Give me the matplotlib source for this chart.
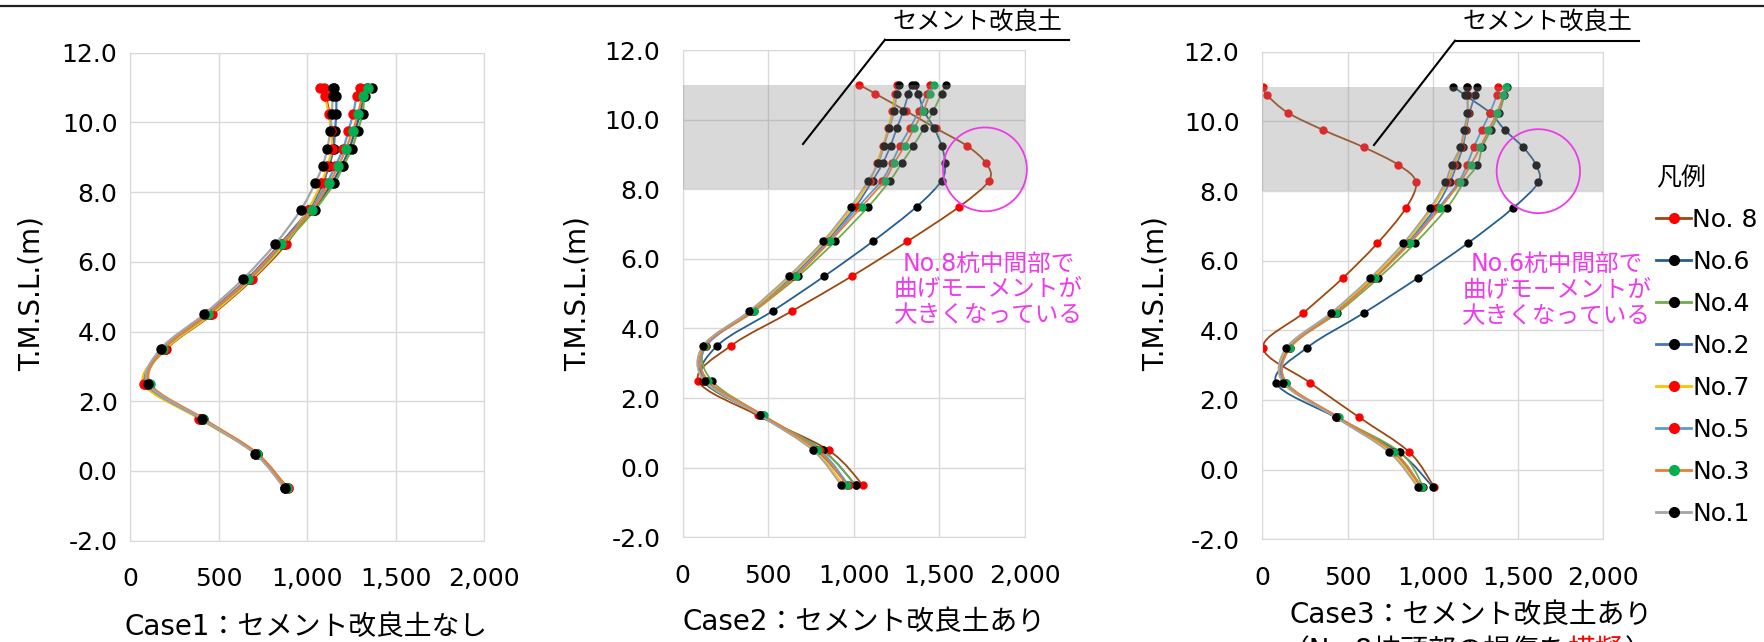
import numpy as np
import matplotlib
matplotlib.use('Agg')
import matplotlib.pyplot as plt
from matplotlib.path import Path
from matplotlib.patches import PathPatch, Ellipse
from matplotlib.lines import Line2D
from matplotlib.ticker import FuncFormatter, MultipleLocator

plt.rcParams['font.family'] = ['DejaVu Sans', 'Noto Sans CJK JP']

W, H = 1764, 642

# 深さ（T.M.S.L.）
depth = [11.0, 10.75, 10.25, 9.75, 9.25, 8.75, 8.25, 7.5, 6.5, 5.5, 4.5, 3.5, 2.5, 1.5, 0.5, -0.5]

# 凡例の順
piles = ['No. 8', 'No.6', 'No.4', 'No.2', 'No.7', 'No.5', 'No.3', 'No.1']
line_colors = ['#9e480e', '#255e91', '#70ad47', '#4472c4', '#ffc000', '#5b9bd5', '#ed7d31', '#a5a5a5']
marker_colors = ['#ff0000', '#000000', '#000000', '#000000', '#ff0000', '#ff0000', '#00b050', '#000000']

# Case1 : セメント改良土なし
c1_no8 = [1095, 1105, 1128, 1140, 1148, 1120, 1090, 1012, 880, 692, 466, 204, 85, 395, 712, 893]
c1_no6 = [1340, 1320, 1300, 1270, 1240, 1195, 1140, 1040, 860, 670, 445, 190, 100, 405, 715, 878]
c1_no4 = [1365, 1327, 1314, 1286, 1254, 1205, 1154, 1045, 870, 680, 450, 195, 110, 410, 718, 880]
c1_no2 = [1155, 1165, 1165, 1158, 1150, 1125, 1085, 1010, 845, 660, 435, 185, 100, 400, 710, 880]
c1_no7 = [1075, 1100, 1122, 1135, 1140, 1115, 1080, 1005, 870, 685, 460, 200, 78, 391, 710, 890]
c1_no5 = [1300, 1280, 1261, 1233, 1205, 1160, 1110, 1020, 860, 675, 445, 190, 95, 400, 712, 885]
c1_no3 = [1346, 1314, 1288, 1258, 1220, 1177, 1124, 1030, 852, 668, 440, 188, 115, 415, 720, 885]
c1_no1 = [1145, 1145, 1140, 1130, 1115, 1088, 1045, 966, 819, 637, 419, 173, 103, 404, 704, 873]

# Case2 : セメント改良土あり
c2_no8 = [1032, 1124, 1305, 1480, 1660, 1772, 1790, 1617, 1313, 989, 640, 282, 92, 440, 853, 1053]
c2_no6 = [1358, 1377, 1410, 1470, 1513, 1533, 1513, 1368, 1111, 828, 526, 202, 120, 460, 818, 1011]
c2_no4 = [1539, 1513, 1465, 1410, 1348, 1280, 1212, 1085, 891, 675, 420, 135, 171, 470, 818, 1011]
c2_no2 = [1338, 1319, 1290, 1251, 1215, 1170, 1110, 1010, 840, 640, 400, 125, 135, 460, 780, 963]
c2_no7 = [1254, 1240, 1225, 1200, 1170, 1135, 1095, 995, 830, 630, 400, 125, 125, 455, 770, 940]
c2_no5 = [1445, 1426, 1380, 1328, 1270, 1221, 1163, 1027, 855, 655, 411, 140, 145, 465, 800, 970]
c2_no3 = [1470, 1445, 1406, 1352, 1299, 1235, 1180, 1046, 861, 661, 415, 130, 150, 474, 790, 960]
c2_no1 = [1266, 1251, 1237, 1208, 1177, 1144, 1085, 982, 819, 619, 390, 119, 129, 453, 761, 926]

# Case3 : セメント改良土あり（No.8杭頭部の損傷を模擬）
c3_no8 = [2, 29, 149, 358, 598, 798, 901, 841, 675, 472, 241, 4, 278, 569, 863, 1008]
c3_no6 = [1120, 1189, 1335, 1423, 1531, 1605, 1619, 1468, 1205, 911, 596, 262, 80, 430, 802, 1000]
c3_no4 = [1435, 1420, 1390, 1340, 1290, 1261, 1183, 1081, 896, 681, 440, 160, 141, 445, 808, 945]
c3_no2 = [1261, 1248, 1215, 1195, 1175, 1140, 1100, 1013, 850, 655, 420, 155, 130, 440, 765, 930]
c3_no7 = [1200, 1205, 1205, 1190, 1165, 1125, 1085, 995, 840, 645, 415, 150, 120, 435, 755, 920]
c3_no5 = [1384, 1375, 1335, 1287, 1240, 1200, 1150, 1030, 855, 660, 425, 160, 135, 445, 775, 935]
c3_no3 = [1429, 1413, 1378, 1326, 1278, 1222, 1160, 1042, 866, 661, 430, 165, 141, 449, 774, 935]
c3_no1 = [1202, 1202, 1202, 1183, 1160, 1111, 1072, 984, 827, 632, 403, 141, 124, 430, 743, 911]

case1 = [c1_no8, c1_no6, c1_no4, c1_no2, c1_no7, c1_no5, c1_no3, c1_no1]
case2 = [c2_no8, c2_no6, c2_no4, c2_no2, c2_no7, c2_no5, c2_no3, c2_no1]
case3 = [c3_no8, c3_no6, c3_no4, c3_no2, c3_no7, c3_no5, c3_no3, c3_no1]

MAGENTA = '#ee3bea'


def fx(x):
    return x / W


def fy(y):
    return 1 - y / H


# Excel風のなめらかな線（ベジエ曲線）
def smooth_path(xs, ys, t=1 / 6):
    pts = np.column_stack([xs, ys]).astype(float)
    n = len(pts)
    verts = [pts[0]]
    codes = [Path.MOVETO]
    for i in range(n - 1):
        p0 = pts[i - 1] if i > 0 else pts[i]
        p1 = pts[i]
        p2 = pts[i + 1]
        p3 = pts[i + 2] if i + 2 < n else pts[i + 1]
        verts += [p1 + (p2 - p0) * t, p2 - (p3 - p1) * t, p2]
        codes += [Path.CURVE4] * 3
    return Path(verts, codes)


fig = plt.figure(figsize=(W / 100, H / 100), dpi=100)

# 上の黒線
fig.add_artist(Line2D([0, 1], [fy(6), fy(6)], color='#222222', lw=1.6, transform=fig.transFigure))

panels = [
    # left, right, top, bottom (px), ytick pad, marker size, lw
    (130, 484, 52.7, 540.7, 9, 6.5, 1.6),
    (682.5, 1025, 50, 537.3, 16, 5, 1.3),
    (1262.3, 1603.3, 51.7, 539.3, 16.5, 5, 1.3),
]
cases = [case1, case2, case3]
axes = []
for (l, r, t, b, pad, ms, lw), data in zip(panels, cases):
    ax = fig.add_axes([fx(l), fy(b), (r - l) / W, (b - t) / H])
    for i, vals in enumerate(data):
        z = 2 + i
        ax.add_patch(PathPatch(smooth_path(vals, depth), facecolor='none',
                               edgecolor=line_colors[i], lw=lw, zorder=z))
        ax.plot(vals, depth, 'o', ms=ms, color=marker_colors[i], mec=marker_colors[i], zorder=z + 0.5)
    ax.set_xlim(0, 2000)
    ax.set_ylim(-2, 12)
    ax.xaxis.set_major_locator(MultipleLocator(500))
    ax.yaxis.set_major_locator(MultipleLocator(2))
    ax.xaxis.set_major_formatter(FuncFormatter(lambda v, p: f'{v:,.0f}'))
    ax.yaxis.set_major_formatter(FuncFormatter(lambda v, p: f'{v:.1f}'))
    ax.grid(True, color='#d9d9d9', lw=1)
    ax.set_axisbelow(True)
    for s in ax.spines.values():
        s.set_color('#d9d9d9')
    ax.tick_params(length=0, labelsize=18, colors='black')
    ax.tick_params(axis='y', pad=pad)
    ax.tick_params(axis='x', pad=19)
    axes.append(ax)

# y軸ラベル
for xc in [32, 578, 1156]:
    fig.text(fx(xc), fy(294), 'T.M.S.L.(m)', rotation=90, ha='center', va='center', fontsize=20)

# x軸ラベル
fig.text(fx(306.5), fy(626.7), 'Case1：セメント改良土なし', ha='center', va='center', fontsize=20)
fig.text(fx(864), fy(621.7), 'Case2：セメント改良土あり', ha='center', va='center', fontsize=20)
fig.text(fx(1471), fy(615), 'Case3：セメント改良土あり', ha='center', va='center', fontsize=20)
fig.text(fx(1567), fy(651), '（No.8杭頭部の損傷を', ha='right', va='center', fontsize=20)
fig.text(fx(1567), fy(651), '模擬', ha='left', va='center', fontsize=20, color='red')
fig.text(fx(1625), fy(651), '）', ha='left', va='center', fontsize=20)

# セメント改良土の範囲（半透明の灰色）
for ax in axes[1:]:
    ax.axhspan(8, 11, color='#8a8a8a', alpha=0.32, lw=0, zorder=20)

# 引出線と注記
for tx, ul, ur, uy, ex, ey in [(977, 885, 1069, 39.7, 803, 144), (1547, 1455, 1639, 40.7, 1374, 145)]:
    fig.text(fx(tx), fy(22), 'セメント改良土', ha='center', va='center', fontsize=17.5)
    fig.add_artist(Line2D([fx(ul), fx(ur)], [fy(uy), fy(uy)], color='black', lw=1.5, transform=fig.transFigure))
    fig.add_artist(Line2D([fx(ul), fx(ex)], [fy(uy), fy(ey)], color='black', lw=1.5, transform=fig.transFigure))

axes[1].add_patch(Ellipse((1766, 8.57), 490, 2.41, fill=False, ec=MAGENTA, lw=1.3, clip_on=False, zorder=25))
axes[2].add_patch(Ellipse((1619, 8.57), 489, 2.41, fill=False, ec=MAGENTA, lw=1.3, clip_on=False, zorder=25))
axes[1].text(1787, 5.12, 'No.8杭中間部で\n曲げモーメントが\n大きくなっている', color=MAGENTA,
             ha='center', va='center', fontsize=17, linespacing=1.1, zorder=25)
axes[2].text(1728, 5.16, 'No.6杭中間部で\n曲げモーメントが\n大きくなっている', color=MAGENTA,
             ha='center', va='center', fontsize=17, linespacing=1.1, zorder=25, clip_on=False)

# 凡例
handles = [Line2D([], [], color=line_colors[i], lw=2, marker='o', ms=7,
                  mfc=marker_colors[i], mec=marker_colors[i]) for i in range(len(piles))]
leg = fig.legend(handles, piles, title='凡例', loc='upper left', bbox_to_anchor=(fx(1656), fy(166)),
                 frameon=False, fontsize=18, title_fontsize=18, handlelength=1.4, handletextpad=0.05,
                 labelspacing=0.72, borderpad=0, borderaxespad=0, alignment='left')

plt.savefig('out.png', dpi=100)
